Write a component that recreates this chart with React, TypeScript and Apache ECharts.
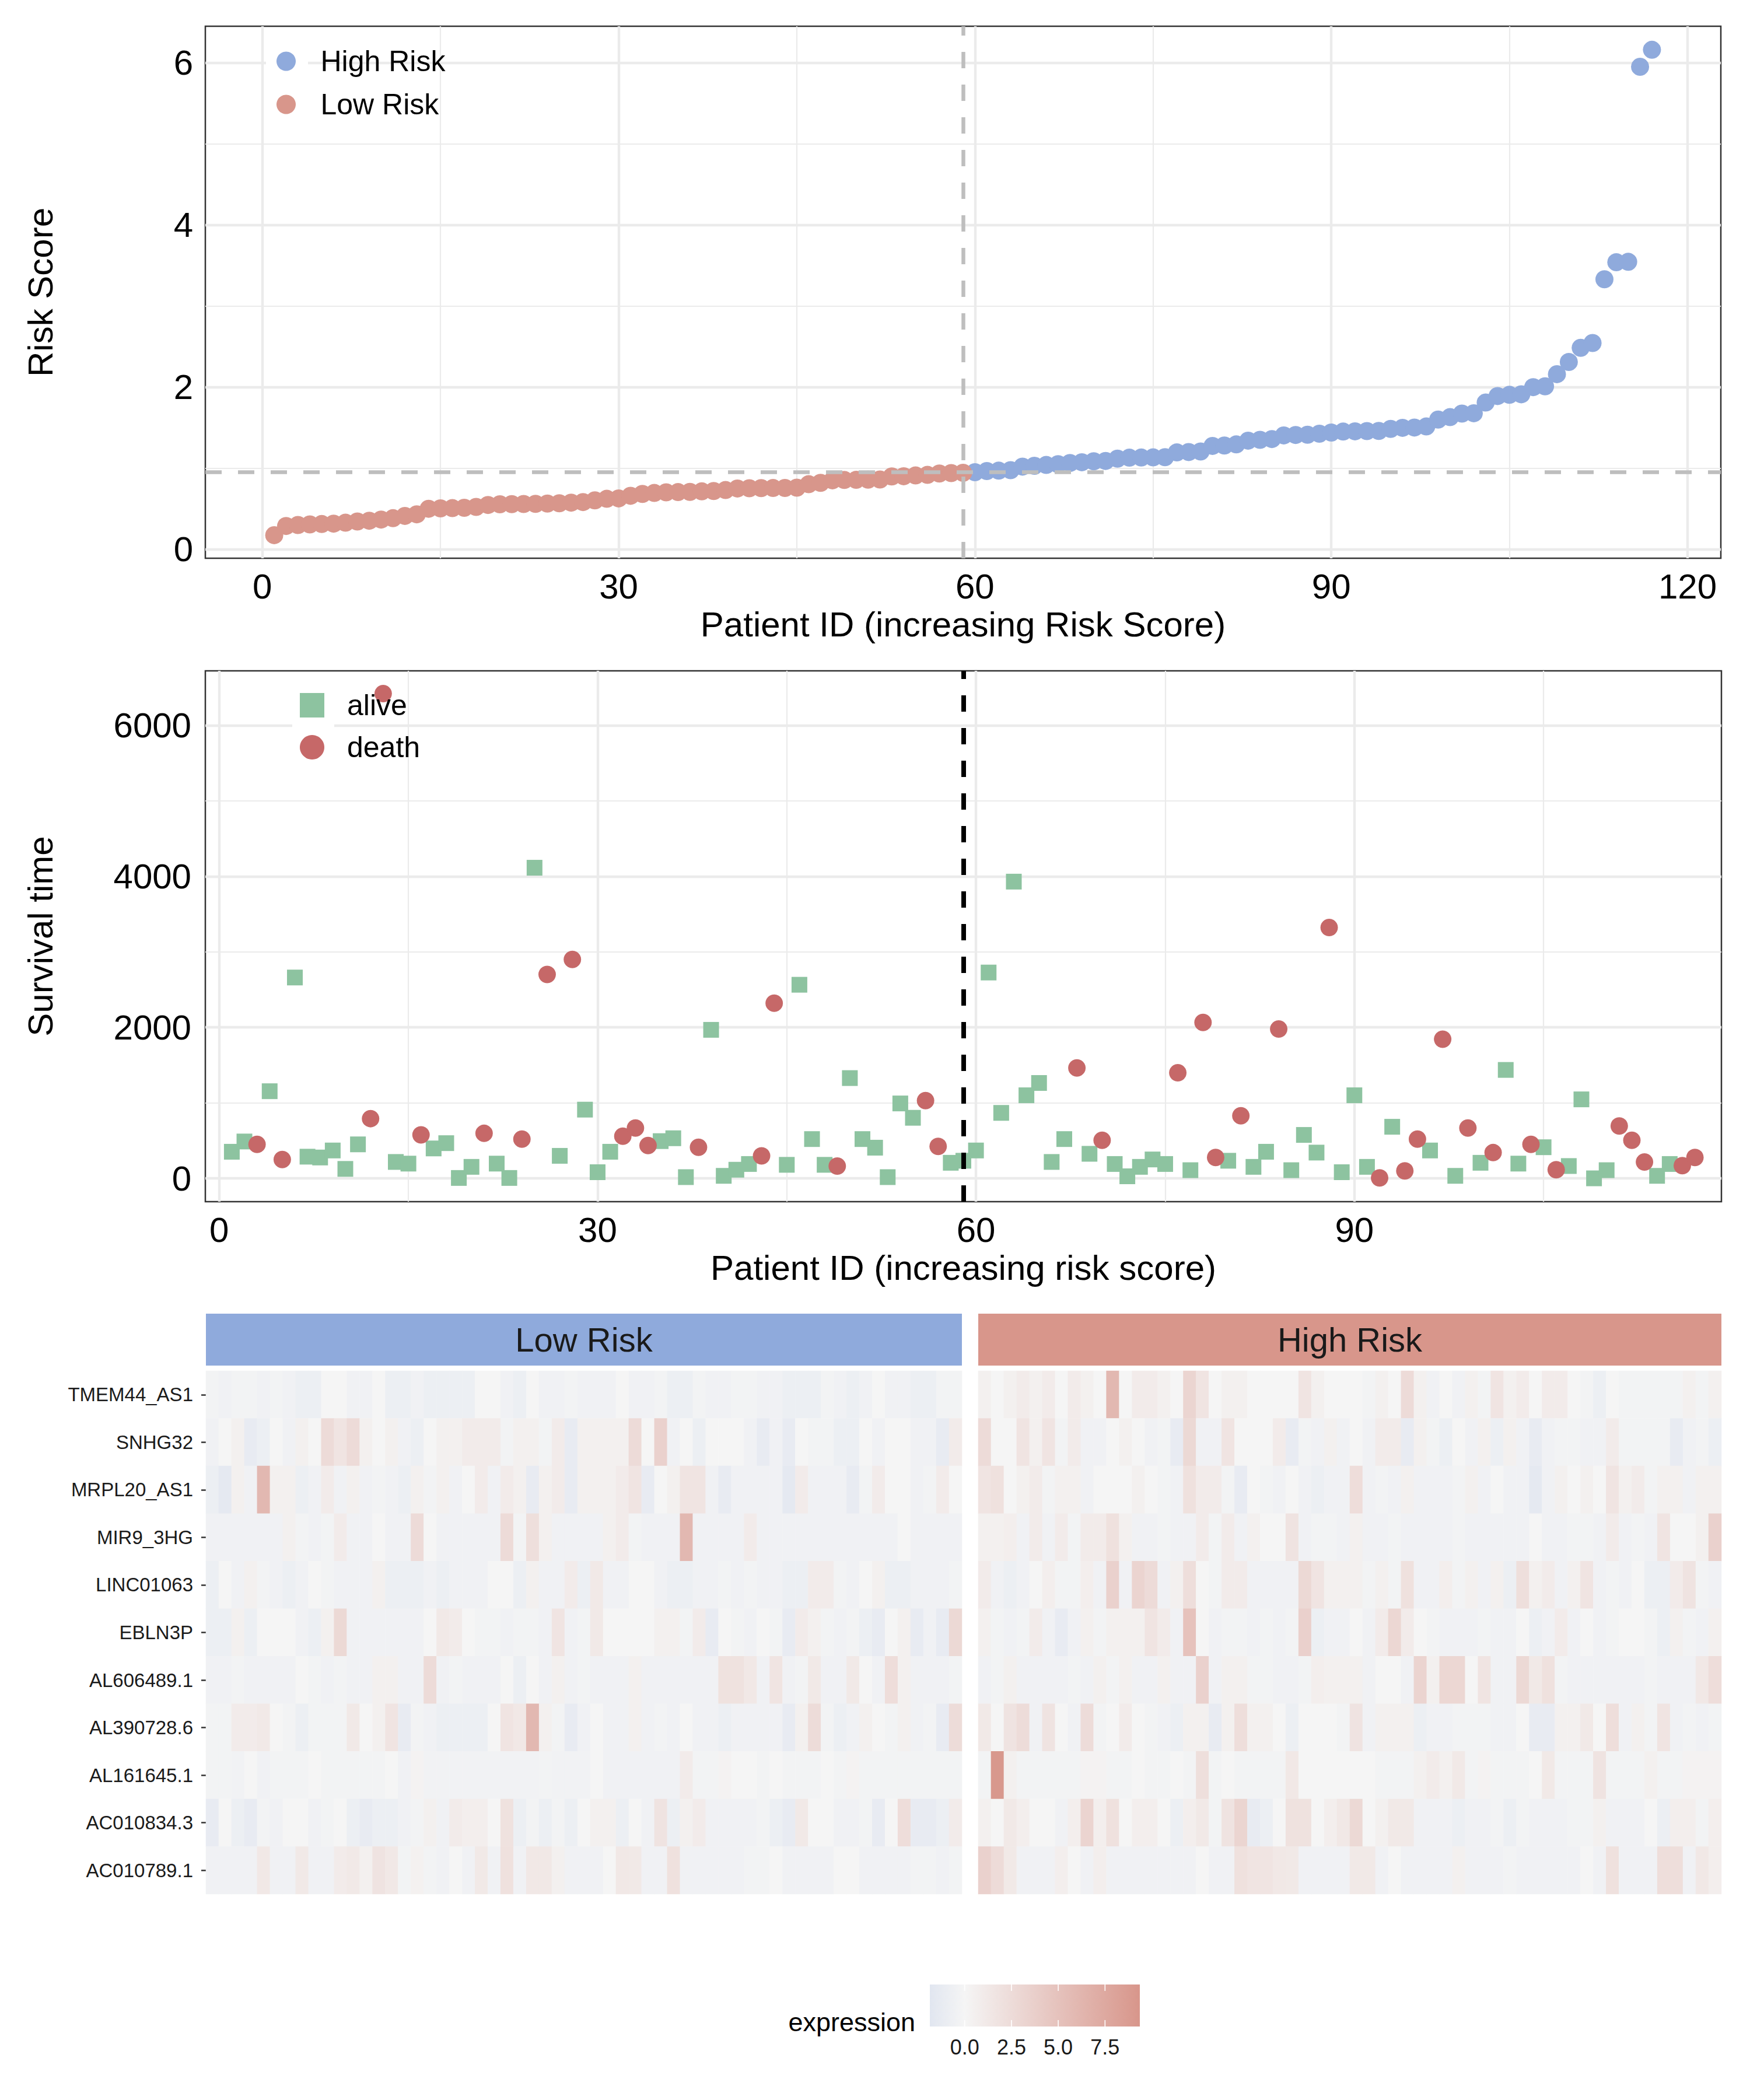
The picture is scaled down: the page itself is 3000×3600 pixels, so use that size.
import React, { useEffect, useRef } from 'react'
import * as echarts from 'echarts'

// ---- data ----
const riskScores = [
  0.175, 0.288, 0.3, 0.307, 0.312, 0.317, 0.328, 0.343, 0.353, 0.367,
  0.384, 0.412, 0.432, 0.5, 0.505, 0.508, 0.512, 0.523, 0.547, 0.555,
  0.557, 0.559, 0.561, 0.564, 0.568, 0.576, 0.583, 0.604, 0.623, 0.628,
  0.66, 0.683, 0.695, 0.703, 0.706, 0.708, 0.715, 0.719, 0.731, 0.75,
  0.753, 0.755, 0.756, 0.757, 0.76, 0.803, 0.82, 0.851, 0.855, 0.857,
  0.859, 0.861, 0.899, 0.901, 0.911, 0.918, 0.935, 0.94, 0.944, 0.951,
  0.965, 0.97, 0.976, 1.02, 1.03, 1.04, 1.05, 1.065, 1.074, 1.086,
  1.09, 1.118, 1.13, 1.132, 1.134, 1.136, 1.195, 1.2, 1.206, 1.275,
  1.28, 1.294, 1.34, 1.35, 1.36, 1.405, 1.41, 1.413, 1.426, 1.44,
  1.452, 1.455, 1.458, 1.46, 1.485, 1.498, 1.502, 1.515, 1.6, 1.63,
  1.674, 1.678, 1.81, 1.89, 1.905, 1.912, 2.0, 2.01, 2.16, 2.31,
  2.485, 2.544, 3.33, 3.54, 3.545, 5.95, 6.16,
]
const lowRiskCount = 59
const riskCutoff = 0.947

const survivalTimes = [
  352, 488, 450, 1154, 250, 2660, 287, 276, 369, 125,
  450, 791, 6420, 217, 195, 575, 396, 466, 5, 152,
  596, 195, 5, 520, 4114, 2700, 298, 2900, 910, 81,
  352, 558, 667, 434, 493, 531, 16, 412, 1967, 33,
  114, 190, 298, 2320, 179, 2564, 520, 179, 163, 1328,
  520, 406, 16, 992, 802, 1030, 423, 206, 233, 369,
  2726, 867, 3930, 1100, 1263, 217, 520, 1463, 325, 504,
  190, 27, 152, 250, 190, 1398, 108, 2065, 276, 233,
  829, 152, 352, 1978, 108, 575, 341, 3322, 81, 1100,
  152, 5, 683, 98, 520, 369, 1843, 33, 667, 206,
  341, 1436, 195, 450, 412, 114, 163, 1046, 0, 108,
  694, 504, 217, 33, 190, 168, 276,
]
// 1 = death, 0 = alive
const deathFlags = [
  0, 0, 1, 0, 1, 0, 0, 0, 0, 0,
  0, 1, 1, 0, 0, 1, 0, 0, 0, 0,
  1, 0, 0, 1, 0, 1, 0, 1, 0, 0,
  0, 1, 1, 1, 0, 0, 0, 1, 0, 0,
  0, 0, 1, 1, 0, 0, 0, 0, 1, 0,
  0, 0, 0, 0, 0, 1, 1, 0, 0, 0,
  0, 0, 0, 0, 0, 0, 0, 1, 0, 1,
  0, 0, 0, 0, 0, 1, 0, 1, 1, 0,
  1, 0, 0, 1, 0, 0, 0, 1, 0, 0,
  0, 1, 0, 1, 1, 0, 1, 0, 1, 0,
  1, 0, 0, 1, 0, 1, 0, 0, 0, 0,
  1, 1, 1, 0, 0, 1, 1,
]

const patientTicks = [0, 30, 60, 90, 120]
const patientMinor = [15, 45, 75, 105]
const survPatientTicks = [0, 30, 60, 90]
const riskTicks = [0, 2, 4, 6]
const riskMinor = [1, 3, 5]
const survivalTicks = [0, 2000, 4000, 6000]
const survivalMinor = [1000, 3000, 5000]
const exprTicks = [0, 2.5, 5, 7.5]
const exprRange = [-1.86, 9.36]

// expression per gene, patients 1..117
const TMEM44_AS1 = [
  -0.3, -0.5, -0.3, -0.3, -0.5, -0.3, -0.5, -0.8, -0.8, 0, 0, -0.5, -0.5, 0, -0.8, -0.8, -0.5, -0.8, -0.8, -0.8, -0.8, 0, 0, -0.5, -0.8, 0, -0.5, -0.5, -0.3, -0.5,
  -0.5, -0.5, 0, -0.5, -0.5, -0.3, -0.8, -0.8, -0.3, -0.5, -0.5, -0.3, -0.3, -0.5, -0.5, -0.8, -0.8, -0.8, -0.3, -0.5, -0.8, -0.5, 0, -0.5, -0.5, -0.8, -0.8, -0.3, -0.3,
  0.5, 0, 0.5, 1, 0.5, 1, 0, 1, 0.5, 0, 6, 0, 1, 1, 0.5, 0, 3.2, 1.7, 0, 0.5, 0.5, 0, 0, 0, 0, 1.7, 0.5, 0, 0, 0,
  -0.3, 0.5, 0, 2.6, 0.5, -0.5, 0, -0.5, 0.5, -0.3, 1.7, 0.5, 1, 0, 1, 1, 0, -0.3, -0.8, 0, -0.3, -0.3, -0.3, -0.3, -0.3, 0.5, -0.3, 0.5,
]
const SNHG32 = [
  -0.5, 0, 0.5, -1.2, -0.8, 0, -0.5, 0.5, 0, 2.6, 1.7, 2.6, 0.5, 0, 0.5, -0.5, -0.8, 0, 0.5, 0.5, 1, 1, 1, -0.3, 0.5, 0.5, -0.3, 1, -1.2, 0.5,
  0.5, 0.5, 0.5, 2.6, 0, 3.5, -0.5, 0, -0.8, 0, 0, 0, -0.5, -1.2, -0.5, -1.2, 0, -0.3, -0.3, -0.8, -0.8, 0, -0.5, 0, 0, -0.5, -0.5, -1.2, 1,
  2.6, 0, 0, 1.7, 0.5, 1.7, -0.3, 1, -0.5, -0.5, 0, 0.5, 0, -0.5, -0.3, -1.2, 2.8, -0.5, -0.5, 1.7, 0, 0, 0, 1, -1.2, -0.3, -0.5, 0.5, -0.5, 0,
  -0.5, 1, 1, -1.2, 0.5, -0.3, -0.8, 0, -0.5, 0.5, -0.8, 0.5, -0.5, -1.2, -0.5, -0.3, -0.3, -0.5, -0.5, 1, -0.3, -0.3, -0.3, -0.3, -1.2, -0.5, -0.3, -0.8,
]
const MRPL20_AS1 = [
  -0.8, -1.5, 0.5, -0.5, 6, 0.5, 0.5, -0.8, -0.5, 1, -0.5, 0.5, -0.5, -0.3, -0.5, -0.8, 0.5, -0.3, 0.5, -0.5, 0, 1, -0.5, 1, 0.5, -1.2, 0.5, 1, -1.2, 0.5,
  0.5, 0.5, 1, 1.7, -1.2, 0, 0.5, 1.7, 1.7, -0.5, -1.2, -0.5, -0.5, -0.5, -0.5, -1.5, 1, -0.5, -0.5, -0.5, -1.2, -0.3, 1, 0, 0, -0.5, -0.3, 1, 0,
  1.7, 2, 0, 0.5, 1, -0.3, 0.5, 0.5, -0.5, 0, 0, 0, 0.5, 0, -0.3, -0.5, 2, 1, 1, -0.3, -1.2, 0, -0.3, -0.5, 0, -0.5, -0.8, -0.5, -0.5, 2.4,
  -0.5, -0.3, -0.5, 0.5, -0.5, -0.5, -0.5, -0.3, 0.5, -0.5, 0, -0.5, -0.5, -1.5, -0.5, 0.5, 0, 0.5, 0, 1.7, 0.5, 1, -0.3, 0.5, 0.5, -0.5, 0.5, 0.5,
]
const MIR9_3HG = [
  -0.5, -0.5, -0.5, -0.5, -0.5, -0.5, 0.5, -0.3, -0.5, -0.3, 1, -0.5, -0.5, 0, -0.5, -0.5, 2.6, 0, -0.5, -0.5, -0.5, -0.5, -0.5, 2.6, -0.3, 2.2, 0.5, -0.5, -0.5, -0.5,
  -0.5, 0.5, 1, -0.3, -0.5, -0.5, -0.5, 6, -0.5, -0.5, -0.5, -0.5, 1, -0.5, -0.5, -0.5, -0.5, -0.5, -0.5, -0.5, -0.5, -0.5, -0.5, -0.5, 0, -0.5, -0.5, -0.5, -0.5,
  0.5, 0.5, 0.7, -0.5, 1, -0.5, 1, -0.3, 1, 1, 2, 0.5, -0.5, -0.5, -0.3, -0.5, -0.5, 1, -0.3, 1, -0.5, 0.5, 0, 0, 1.8, -0.5, -0.3, -0.3, -0.5, 0.5,
  -0.5, -0.5, -0.3, -0.5, -0.5, -0.5, -0.5, -0.3, -0.5, -0.5, -0.5, -0.5, -0.5, 0, -0.5, -0.5, -0.3, -0.3, -0.5, 1, -0.5, -0.3, -0.5, 1.7, 0, 0, 0.5, 3.5,
]
const LINC01063 = [
  -0.8, 0, -0.5, 0.5, -0.3, -0.5, -0.8, -0.5, 0, -0.3, -0.5, -0.5, -0.5, 0.5, -0.8, -0.8, -0.8, -0.5, -0.8, -0.5, -0.5, -0.5, 0, 0, -0.8, 0.5, -0.5, -0.5, 1, -0.8,
  1.2, -0.5, -0.5, 0, 0, -0.5, -0.8, -0.8, -0.5, -0.5, -0.3, -0.5, -0.3, -0.5, -0.5, -0.8, -0.8, 1, 1, -0.3, -0.5, 0, 0.5, -0.8, -0.8, -0.5, -0.5, -0.5, -0.3,
  1, -0.5, -0.8, -0.5, 0, 0.7, -0.3, -0.3, 0.7, -0.5, 3.5, -0.5, 3.3, 2.6, -0.5, 0.5, 2.3, 0, -0.3, 1, 1, -0.5, -0.5, -0.5, -0.5, 2.8, 1.7, 0.5, 0.5, 0.5,
  -0.3, 0.5, -0.3, 2, -0.5, -0.5, 0.7, -0.3, 0.5, -0.5, 0.5, -0.8, 2.2, 0.5, 1, -0.5, 0.5, 1.7, -0.5, -0.3, -0.5, 0, -0.8, -0.8, 1, 1.8, -0.3, -0.5,
]
const EBLN3P = [
  -0.8, -0.8, 0.5, -0.8, 0, 0, 0, -0.5, -0.8, 0.5, 2.8, -0.5, -0.5, -0.5, -0.5, -0.5, -0.5, 0, 1.2, 1, 0, -0.3, -0.3, -0.5, -0.3, -0.3, -0.5, 1.7, -0.5, -0.3,
  1.2, 0, 0, 0, 0, 0.5, 0.5, -0.3, 1, -1.2, 0, -0.3, -0.5, 0, -0.3, -1.2, 1, 0.5, -0.3, -0.5, -0.3, -0.8, -1.2, 0, 0.5, -1.2, -0.5, -1.2, 2.8,
  0.5, -0.3, -0.5, -0.3, 1, -0.5, -1.2, -0.5, 0.5, -0.3, 0.5, 0.5, 0.5, 1.7, 1, -0.5, 5, 0, -0.5, -0.3, -0.3, -0.5, -0.3, -0.5, -0.3, 3.6, -0.8, -0.5, -0.5, 0,
  -0.5, 1, 3, 1, 0, -0.3, -0.5, -0.5, -0.5, -0.3, -0.5, -0.5, 0, -0.8, -0.5, 1, -0.5, 0, -0.5, -0.3, 0, 0, -0.3, -0.8, 0.5, -0.3, -0.5, 0.5,
]
const AL606489_1 = [
  -0.5, -0.5, -0.3, -0.5, -0.5, -0.5, -0.5, 0, -0.3, -0.5, -0.3, -0.5, -0.5, 0.5, 0.5, -0.5, -0.5, 2.6, -0.5, -0.3, -0.5, -0.5, -0.5, 0, -0.8, 0, -0.5, 0.5, -0.5, -0.3,
  -0.5, -0.5, -0.5, 0.5, -0.5, -0.5, -0.5, -0.5, -0.5, -0.5, 1.9, 1.9, 1.3, -0.5, 1.7, -0.5, -0.3, 1.2, -0.5, -0.5, 1.2, 0, -0.5, 2.4, 0.5, -0.5, -0.5, -0.5, -0.3,
  -0.5, -0.3, 0.5, -0.5, -0.5, -0.5, -0.5, -0.3, -0.5, 0.5, -0.3, 0.5, -0.5, -0.5, 0.5, -0.5, -0.5, 3.5, -0.5, 0.5, 0.5, -0.3, -0.3, -0.5, -0.5, -0.3, 0.7, 0.5, 0.5, 0.5,
  -0.5, 0, 0, -0.5, 3.3, 0.5, 3, 3, 0, 1.7, -0.5, -0.5, 2.8, 1.2, 2, -0.3, -0.5, -0.5, -0.5, -0.5, -0.5, -0.5, -0.3, -0.5, -0.5, -0.5, 1.3, 2.4,
]
const AL390728_6 = [
  -0.3, -0.3, 1, 1, 1.2, 0, -0.3, -0.8, -0.3, -0.3, -0.3, 1.2, 0, 0.5, 1.7, -1.2, -0.3, -0.5, -0.8, -0.8, -0.8, -0.8, 0, 1.7, 1.3, 6, 0.5, -0.3, -1.2, -0.5,
  0, -0.5, -0.5, 0.5, -0.5, -0.3, -0.5, 0, -0.5, -0.5, -0.8, -0.5, -0.5, -0.5, -0.5, -1.2, 0.5, 2.5, -0.3, -0.8, -0.5, 0.5, 0, -0.3, 0.5, -0.5, -0.3, -1.2, 2.5,
  1.2, 0, 1.8, 2.5, -0.5, 1.8, 0, -0.5, 2.5, -0.3, 0, 1, 0, -0.3, -0.5, -0.8, 0.5, 0.5, -1.2, 0.5, 2.3, 0.5, 0.5, 0, -0.8, 0, 0, 0, -0.3, 1.8,
  -0.5, 0.5, 0.5, 0.5, -0.8, -0.5, -0.5, -0.3, -0.3, -0.3, -0.5, -0.5, 0, -1.2, -1.2, 0.5, 0.5, 1.2, 0, 2.3, -0.5, 0.5, -0.3, 1.7, -0.5, -0.3, -0.5, -0.3,
]
const AL161645_1 = [
  -0.3, -0.3, -0.4, 0, -0.5, -0.3, -0.3, -0.3, 0, -0.3, -0.3, -0.3, -0.3, -0.3, 0, -0.5, 0.3, -0.4, -0.4, -0.4, -0.4, -0.4, -0.4, -0.4, -0.4, -0.4, -0.3, -0.4, -0.4, -0.4,
  0, -0.5, -0.5, -0.5, -0.5, -0.5, -0.5, 1, -0.3, -0.3, 0.3, 0, 0, -0.3, 0, -0.3, -0.3, -0.3, 0, -0.3, 0.3, -0.3, -0.3, -0.3, -0.3, -0.3, -0.3, -0.3, -0.3,
  -0.3, 9.2, 0.5, -0.3, -0.3, -0.3, -0.3, -0.3, 0.3, 0.3, -0.3, -0.3, 0, -0.3, -0.3, 0, -0.3, 2.2, -0.3, 0, -0.3, -0.3, -0.3, -0.3, 1.3, 0, 0, 0, 0, 0,
  0, -0.3, -0.3, -0.3, 0.5, 1, 0.5, 1.2, -0.3, 0.3, -0.3, -0.3, -0.3, 0, 1.2, -0.3, -0.3, -0.3, 1.8, -0.3, -0.3, -0.3, 0.5, -0.3, -0.3, 0.3, 0.3, 0.3,
]
const AC010834_3 = [
  -1.2, 0, -0.8, -1.2, -0.3, -0.5, 0, 0, -0.5, -0.3, 0, -0.8, -1.2, -0.8, -0.8, -0.5, -0.3, 0.5, -0.5, 1, 0.7, 0.7, 0, 1.9, -0.8, -0.3, -0.8, -0.3, -0.8, 0,
  0.5, 0.5, -0.8, 0, -0.5, 1.8, -0.8, 0.5, 1, -0.5, -0.5, -0.5, -0.5, -0.3, -0.8, -1.2, 1.2, 0, 0, -0.5, -0.5, -0.3, -1.2, 0, 2.4, -1.2, -1.2, -0.8, 1,
  0.5, 0, 1.2, 0.7, 0, 0, -0.5, 0.7, 3.3, 0.7, 2, 0, 0.7, 0.7, 0, -0.8, 0.7, 1.2, -0.3, 1.8, 3.2, -1.2, -0.8, 0, 1.9, 1.9, 0, 0.7, 1.3, 2.8,
  0, 0.5, 1.2, 1.2, -0.5, -0.5, -0.5, -0.8, -0.5, -0.5, -0.3, -0.8, -0.3, -0.5, -0.5, -0.5, -0.3, -0.3, 0.5, -0.5, -0.5, -0.5, 0, -0.8, 0.7, 0.7, -0.3, 0.7,
]
const AC010789_1 = [
  -0.5, -0.5, -0.5, -0.5, 1.3, -0.5, -0.5, 1.2, -0.5, -0.5, 1, 1.2, 0.5, 1.8, 1.3, -0.3, 0.4, -0.3, -0.5, 0, -0.5, 1.2, -0.5, 2, -0.5, 1.3, 1.3, 0.5, -0.5, -0.5,
  -0.5, 0, 1.3, 1.2, -0.5, -0.5, 2, -0.5, -0.5, -0.5, -0.5, -0.5, -0.3, -0.3, 0, -0.5, -0.5, -0.5, -0.5, 0, 0, -0.5, -0.5, -0.5, -0.5, -0.3, -0.3, -0.5, -0.3,
  3.5, 2.6, 1.2, -0.5, -0.5, -0.5, 0.7, 0, -0.5, 0.7, -0.5, -0.5, -0.5, -0.5, -0.5, -0.5, -0.5, 0, -0.5, -0.5, 2, 1.7, 1.7, 1.3, 1.2, -0.5, -0.5, -0.5, -0.5, 1.2,
  1.2, -0.5, 0, -0.5, -0.5, -0.5, -0.5, 0.5, -0.5, -0.5, -0.5, -0.3, -0.5, -0.5, -0.5, -0.5, -0.5, 0, -0.5, 2, -0.5, -0.5, -0.5, 2.3, 2.3, -0.5, 1.3, 0.7,
]

// top-to-bottom order as in the figure
const geneRows: [string, number[]][] = [
  ['TMEM44_AS1', TMEM44_AS1],
  ['SNHG32', SNHG32],
  ['MRPL20_AS1', MRPL20_AS1],
  ['MIR9_3HG', MIR9_3HG],
  ['LINC01063', LINC01063],
  ['EBLN3P', EBLN3P],
  ['AL606489.1', AL606489_1],
  ['AL390728.6', AL390728_6],
  ['AL161645.1', AL161645_1],
  ['AC010834.3', AC010834_3],
  ['AC010789.1', AC010789_1],
]

// ---- styles / layout ----
const FONT = '"Liberation Sans", Arial, Helvetica, sans-serif'
const BLUE = '#8FAADC'
const RED = '#D8968B'
const ALIVE = '#8DC3A0'
const DEATH = '#C66868'
const GRID = '#EBEBEB'
const BORDER = '#333333'
const EXPR_LOW = '#8FAADC'
const EXPR_MID = '#F5F5F5'
const EXPR_HIGH = '#D8968B'
const EXPR_LIMIT = 9.36
const SQUARE_ICON = 'path://M0,0L10,0L10,10L0,10Z'

const TOP = { left: 352, top: 45, width: 2598, height: 912 }
const MID = { left: 352, top: 1150, width: 2599, height: 910 }
const HM_L = { left: 353, top: 2350, width: 1296, height: 897 }
const HM_R = { left: 1677, top: 2350, width: 1274, height: 897 }
const STRIP_TOP = 2252
const STRIP_H = 89
const BAR = { x: 1594, y: 3402, w: 360, h: 72 }

function hexToRgb(h: string) {
  const n = parseInt(h.slice(1), 16)
  return [(n >> 16) & 255, (n >> 8) & 255, n & 255]
}
function mix(a: string, b: string, t: number) {
  const A = hexToRgb(a), B = hexToRgb(b)
  const c = A.map((v, i) => Math.round(v + (B[i] - v) * t))
  return `rgb(${c[0]},${c[1]},${c[2]})`
}
const exprColor = (v: number) =>
  v < 0 ? mix(EXPR_MID, EXPR_LOW, -v / EXPR_LIMIT) : mix(EXPR_MID, EXPR_HIGH, v / EXPR_LIMIT)

const gridLines = (xMaj: number[], xMin: number[], yMaj: number[], yMin: number[]) => ({
  silent: true,
  z: 1,
  symbol: ['none', 'none'],
  label: { show: false },
  emphasis: { disabled: true },
  animation: false,
  data: [
    ...xMaj.map(v => ({ xAxis: v, lineStyle: { color: GRID, width: 4.4, type: 'solid' } })),
    ...xMin.map(v => ({ xAxis: v, lineStyle: { color: GRID, width: 2.2, type: 'solid' } })),
    ...yMaj.map(v => ({ yAxis: v, lineStyle: { color: GRID, width: 4.4, type: 'solid' } })),
    ...yMin.map(v => ({ yAxis: v, lineStyle: { color: GRID, width: 2.2, type: 'solid' } })),
  ],
})

const valueAxis = (gridIndex: number, min: number, max: number, ticks: number[], margin: number, name: string, nameGap: number) => ({
  type: 'value',
  gridIndex,
  min,
  max,
  name,
  nameLocation: 'middle',
  nameGap,
  nameTextStyle: { fontSize: 60, color: '#000', fontFamily: FONT, lineHeight: 60 },
  axisLine: { show: false },
  axisTick: { show: true, length: 7, lineStyle: { color: BORDER, width: 2.5 }, customValues: ticks },
  axisLabel: {
    customValues: ticks, fontSize: 60, color: '#000', fontFamily: FONT, margin,
    formatter: (v: number) => String(v),
  },
  splitLine: { show: false },
})

export default function App() {
  const chartRef = useRef<HTMLDivElement>(null)

  useEffect(() => {
    if (!chartRef.current) return
    const chart = echarts.init(chartRef.current, undefined, { renderer: 'svg' })

    const points = riskScores.map((v, i) => [i + 1, v])
    const surv = survivalTimes.map((v, i) => [i + 1, v])
    const genesBottomUp = geneRows.map(g => g[0]).reverse()
    const nGenes = geneRows.length
    const leftIds = riskScores.slice(0, lowRiskCount).map((_, i) => String(i + 1))
    const rightIds = riskScores.slice(lowRiskCount).map((_, i) => String(i + 1 + lowRiskCount))

    const hmLeft: number[][] = []
    const hmRight: number[][] = []
    geneRows.forEach(([, vals], r) => {
      const y = nGenes - 1 - r
      vals.forEach((v, i) => {
        if (i < lowRiskCount) hmLeft.push([i, y, v])
        else hmRight.push([i - lowRiskCount, y, v])
      })
    })

    const span = exprRange[1] - exprRange[0]
    const barX = (v: number) => BAR.x + ((v - exprRange[0]) / span) * BAR.w

    const keyBox = (cx: number, cy: number) => ({
      type: 'rect', z: 1.5, silent: true,
      shape: { x: cx - 36, y: cy - 36, width: 72, height: 72 },
      style: { fill: '#ffffff' },
    })

    const strip = (g: typeof HM_L, label: string, color: string) => [
      { type: 'rect', z: 10, shape: { x: g.left, y: STRIP_TOP, width: g.width, height: STRIP_H }, style: { fill: color } },
      {
        type: 'text', z: 11, x: g.left + g.width / 2, y: STRIP_TOP + STRIP_H / 2,
        style: { text: label, fontSize: 58, fontFamily: FONT, fill: '#1A1A1A', align: 'center', verticalAlign: 'middle' },
      },
    ]

    const option: any = {
      animation: false,
      backgroundColor: '#ffffff',
      textStyle: { fontFamily: FONT },
      grid: [
        { ...TOP, show: true, borderColor: BORDER, borderWidth: 2.5, backgroundColor: 'transparent', containLabel: false, outerBoundsMode: 'none' },
        { ...MID, show: true, borderColor: BORDER, borderWidth: 2.5, backgroundColor: 'transparent', containLabel: false, outerBoundsMode: 'none' },
        { ...HM_L, show: false, containLabel: false, outerBoundsMode: 'none' },
        { ...HM_R, show: false, containLabel: false, outerBoundsMode: 'none' },
      ],
      xAxis: [
        valueAxis(0, -4.8, 122.8, patientTicks, 18, 'Patient ID (increasing Risk Score)', 83),
        valueAxis(1, -1.1, 119.1, survPatientTicks, 18, 'Patient ID (increasing risk score)', 83),
        { type: 'category', gridIndex: 2, data: leftIds, show: false },
        { type: 'category', gridIndex: 3, data: rightIds, show: false },
      ],
      yAxis: [
        valueAxis(0, -0.11, 6.45, riskTicks, 21, 'Risk Score', 253),
        valueAxis(1, -309, 6722, survivalTicks, 24, 'Survival time', 253),
        {
          type: 'category', gridIndex: 2, data: genesBottomUp,
          axisLine: { show: false },
          axisTick: { show: true, alignWithLabel: true, length: 8, lineStyle: { color: BORDER, width: 2.5 } },
          axisLabel: { fontSize: 33, color: '#1A1A1A', fontFamily: FONT, margin: 22 },
          splitLine: { show: false },
        },
        { type: 'category', gridIndex: 3, data: genesBottomUp, show: false },
      ],
      legend: [
        {
          data: ['High Risk', 'Low Risk'],
          orient: 'vertical', left: 469, top: 75,
          itemWidth: 108, itemHeight: 33, itemGap: 24,
          icon: 'circle', selectedMode: false,
          textStyle: { fontSize: 50, color: '#000', fontFamily: FONT, lineHeight: 50 },
        },
        {
          data: [{ name: 'alive', icon: SQUARE_ICON }, { name: 'death', icon: 'circle' }],
          orient: 'vertical', left: 509, top: 1179,
          itemWidth: 110, itemHeight: 42, itemGap: 22,
          symbolKeepAspect: true,
          selectedMode: false,
          textStyle: { fontSize: 50, color: '#000', fontFamily: FONT, lineHeight: 50 },
        },
      ],
      visualMap: {
        type: 'continuous', show: false, seriesIndex: [4, 5],
        min: -EXPR_LIMIT, max: EXPR_LIMIT,
        inRange: { color: [EXPR_LOW, EXPR_MID, EXPR_HIGH] },
      },
      series: [
        {
          type: 'scatter', name: 'High Risk', xAxisIndex: 0, yAxisIndex: 0, z: 2,
          data: points.filter(p => p[0] > lowRiskCount),
          symbol: 'circle', symbolSize: 31,
          itemStyle: { color: BLUE, opacity: 1 },
          emphasis: { disabled: true },
          markLine: gridLines(patientTicks, patientMinor, riskTicks, riskMinor),
        },
        {
          type: 'scatter', name: 'Low Risk', xAxisIndex: 0, yAxisIndex: 0, z: 2,
          data: points.filter(p => p[0] <= lowRiskCount),
          symbol: 'circle', symbolSize: 31,
          itemStyle: { color: RED, opacity: 1 },
          emphasis: { disabled: true },
          markLine: {
            silent: true, z: 5, symbol: ['none', 'none'], label: { show: false }, animation: false,
            emphasis: { disabled: true },
            data: [
              { xAxis: lowRiskCount, lineStyle: { color: '#BEBEBE', width: 6.5, type: [28, 28] } },
              { yAxis: riskCutoff, lineStyle: { color: '#BEBEBE', width: 6.5, type: [28, 28] } },
            ],
          },
        },
        {
          type: 'scatter', name: 'alive', xAxisIndex: 1, yAxisIndex: 1, z: 2,
          data: surv.filter((_, i) => deathFlags[i] === 0),
          symbol: 'rect', symbolSize: 27,
          itemStyle: { color: ALIVE, opacity: 1 },
          emphasis: { disabled: true },
          markLine: gridLines(survPatientTicks, patientMinor, survivalTicks, survivalMinor),
        },
        {
          type: 'scatter', name: 'death', xAxisIndex: 1, yAxisIndex: 1, z: 2,
          data: surv.filter((_, i) => deathFlags[i] === 1),
          symbol: 'circle', symbolSize: 30,
          itemStyle: { color: DEATH, opacity: 1 },
          emphasis: { disabled: true },
          markLine: {
            silent: true, z: 5, symbol: ['none', 'none'], label: { show: false }, animation: false,
            emphasis: { disabled: true },
            data: [{ xAxis: lowRiskCount, lineStyle: { color: '#000000', width: 8, type: [28, 28] } }],
          },
        },
        {
          type: 'heatmap', xAxisIndex: 2, yAxisIndex: 2, data: hmLeft,
          itemStyle: { borderWidth: 0 }, emphasis: { disabled: true },
        },
        {
          type: 'heatmap', xAxisIndex: 3, yAxisIndex: 3, data: hmRight,
          itemStyle: { borderWidth: 0 }, emphasis: { disabled: true },
        },
      ],
      graphic: [
        keyBox(492, 100),
        keyBox(492, 174),
        keyBox(537, 1204),
        keyBox(537, 1276),
        ...strip(HM_L, 'Low Risk', BLUE),
        ...strip(HM_R, 'High Risk', RED),
        {
          type: 'rect', z: 10,
          shape: { x: BAR.x, y: BAR.y, width: BAR.w, height: BAR.h },
          style: {
            fill: {
              type: 'linear', x: 0, y: 0, x2: 1, y2: 0,
              colorStops: [
                { offset: 0, color: exprColor(exprRange[0]) },
                { offset: (0 - exprRange[0]) / span, color: exprColor(0) },
                { offset: 1, color: exprColor(exprRange[1]) },
              ],
            },
          },
        },
        ...exprTicks.flatMap(v => [
          { type: 'line', z: 11, shape: { x1: barX(v), y1: BAR.y, x2: barX(v), y2: BAR.y + 11 }, style: { stroke: '#ffffff', lineWidth: 1.6 } },
          { type: 'line', z: 11, shape: { x1: barX(v), y1: BAR.y + BAR.h - 11, x2: barX(v), y2: BAR.y + BAR.h }, style: { stroke: '#ffffff', lineWidth: 1.6 } },
          {
            type: 'text', z: 11, x: barX(v), y: 3509,
            style: { text: v.toFixed(1), fontSize: 36, fontFamily: FONT, fill: '#1A1A1A', align: 'center', verticalAlign: 'middle' },
          },
        ]),
        {
          type: 'text', z: 11, x: 1569, y: 3466,
          style: { text: 'expression', fontSize: 45, fontFamily: FONT, fill: '#000', align: 'right', verticalAlign: 'middle' },
        },
      ],
    }

    chart.setOption(option)
    return () => {
      chart.dispose()
    }
  }, [])

  return (
    <div
      ref={chartRef}
      style={{ position: 'absolute', left: 0, top: 0, width: 3000, height: 3600 }}
    />
  )
}
